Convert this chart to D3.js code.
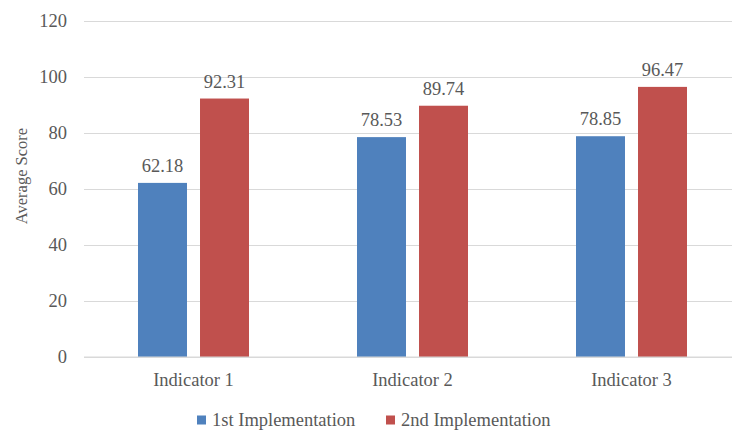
<!DOCTYPE html>
<html>
<head>
	<meta charset="UTF-8">
	<title>Average Score by Indicator</title>
	<script src="https://cdn.jsdelivr.net/npm/d3@7"></script>
	<style type="text/css">
		body { margin: 0; background: #fff; }
	</style>
</head>
<body>
	<svg id="chart" width="732" height="433"></svg>
	<script type="text/javascript">
		var categories = ['Indicator 1', 'Indicator 2', 'Indicator 3'];
		var seriesNames = ['1st Implementation', '2nd Implementation'];
		var firstImpl = [62.18, 78.53, 78.85];
		var secondImpl = [92.31, 89.74, 96.47];
		var yTicks = [0, 20, 40, 60, 80, 100, 120];
		var colors = ['#4f81bd', '#c0504d'];
		var serif = '"Liberation Serif", "DejaVu Serif", serif';
		var fontSize = '18.5px';

		var svg = d3.select('#chart');
		var plotL = 84, plotR = 741, plotT = 21, plotB = 357;

		var y = d3.scaleLinear().domain([0, 120]).range([plotB, plotT]);
		var x0 = d3.scaleBand().domain(categories).range([plotL, plotR]).padding(0);
		var groupW = 111;
		var x1 = d3.scaleBand().domain(seriesNames).range([0, groupW]).paddingInner(0.21);

		// gridlines + y labels
		var yAxis = d3.axisLeft(y).tickValues(yTicks).tickSize(-(plotR - plotL)).tickPadding(17);
		var gy = svg.append('g').attr('transform', 'translate(' + plotL + ',0)').call(yAxis);
		gy.select('.domain').remove();
		gy.selectAll('.tick line').attr('stroke', '#d9d9d9').attr('stroke-width', 1);
		gy.selectAll('.tick text').style('font-size', fontSize);

		// bars
		var rows = categories.map(function (c, i) {
			return { cat: c, vals: [firstImpl[i], secondImpl[i]] };
		});
		var groups = svg.selectAll('g.grp').data(rows).enter().append('g')
			.attr('class', 'grp')
			.attr('transform', function (d) {
				return 'translate(' + (x0(d.cat) + (x0.bandwidth() - groupW) / 2) + ',0)';
			});
		var bars = groups.selectAll('g.bar').data(function (d) {
			return d.vals.map(function (v, j) { return { name: seriesNames[j], v: v, j: j }; });
		}).enter().append('g').attr('class', 'bar');

		bars.append('rect')
			.attr('x', function (d) { return x1(d.name); })
			.attr('y', function (d) { return y(d.v); })
			.attr('width', x1.bandwidth())
			.attr('height', function (d) { return y(0) - y(d.v); })
			.attr('fill', function (d) { return colors[d.j]; });

		bars.append('text')
			.attr('x', function (d) { return x1(d.name) + x1.bandwidth() / 2; })
			.attr('y', function (d) { return y(d.v) - 11; })
			.attr('text-anchor', 'middle')
			.style('font-size', fontSize)
			.text(function (d) { return d.v.toFixed(2); });

		// baseline
		svg.append('line')
			.attr('x1', plotL).attr('x2', plotR)
			.attr('y1', y(0)).attr('y2', y(0))
			.attr('stroke', '#d9d9d9');

		// category labels
		var xAxis = d3.axisBottom(x0).tickSize(0).tickPadding(16);
		var gx = svg.append('g').attr('transform', 'translate(0,' + plotB + ')').call(xAxis);
		gx.select('.domain').remove();
		gx.selectAll('.tick text').style('font-size', fontSize);

		// y title
		svg.append('text')
			.attr('transform', 'translate(27,176) rotate(-90)')
			.attr('text-anchor', 'middle')
			.style('font-size', '16.5px')
			.text('Average Score');

		// legend
		var legendX = [197, 386];
		var leg = svg.selectAll('g.leg').data(seriesNames).enter().append('g')
			.attr('class', 'leg')
			.attr('transform', function (d, i) { return 'translate(' + legendX[i] + ',420)'; });
		leg.append('rect')
			.attr('x', 0).attr('y', -4.5)
			.attr('width', 9).attr('height', 9)
			.attr('fill', function (d, i) { return colors[i]; });
		leg.append('text')
			.attr('x', 15).attr('y', 6)
			.style('font-size', fontSize)
			.text(function (d) { return d; });

		svg.selectAll('text')
			.style('font-family', serif)
			.attr('fill', '#595959');
	</script>
</body>
</html>
